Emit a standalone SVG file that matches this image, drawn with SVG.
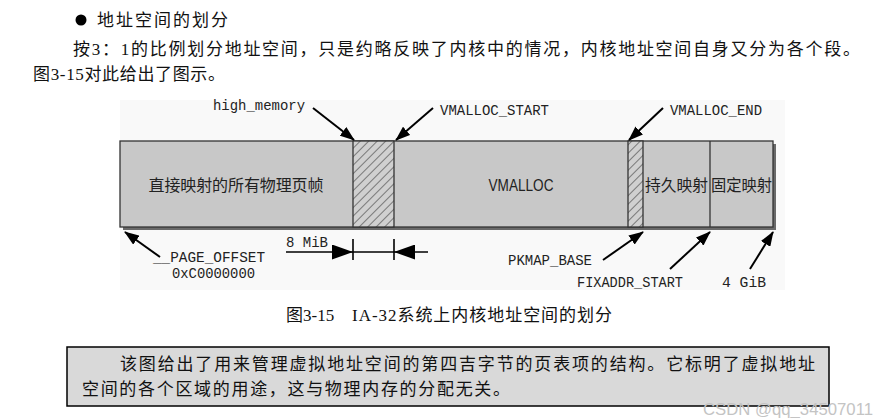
<svg xmlns="http://www.w3.org/2000/svg" width="876" height="418" viewBox="0 0 876 418">
<style>
.cn{font-family:"Liberation Serif","Noto Sans CJK SC",serif;font-size:17px;fill:#111}
.mono{font-family:"Liberation Mono","DejaVu Sans Mono",monospace;font-size:14px;fill:#222}
.bar{fill:#c8c8c8;stroke:#333;stroke-width:1.3}
.arr{stroke:#000;stroke-width:2;fill:none;marker-end:url(#ah)}
.dim{stroke:#000;stroke-width:1.6;fill:none}
.seg{font-family:"Noto Sans CJK SC","Liberation Sans",sans-serif;font-size:16px;fill:#222}
</style>
<defs>
<marker id="ah" markerUnits="userSpaceOnUse" markerWidth="15" markerHeight="11" refX="14" refY="5.5" orient="auto"><path d="M0,0 L15,5.5 L0,11 z" fill="#000"/></marker>
<marker id="ahb" markerUnits="userSpaceOnUse" markerWidth="21" markerHeight="15" refX="21" refY="7.5" orient="auto"><path d="M0,0 L21,7.5 L0,15 z" fill="#000"/></marker>
<pattern id="hatch" patternUnits="userSpaceOnUse" width="6" height="6" patternTransform="rotate(45)">
<rect width="6" height="6" fill="#d0d0d0"/>
<line x1="0" y1="0" x2="0" y2="6" stroke="#222" stroke-width="1"/>
</pattern>
</defs>
<rect width="876" height="418" fill="#fff"/>
<g id="heading">
<circle cx="81" cy="20" r="5.5" fill="#000"/>
<text class="cn" x="97" y="26" textLength="131" lengthAdjust="spacing">地址空间的划分</text>
</g>
<g id="para">
<text class="cn" x="73" y="55" textLength="787" lengthAdjust="spacing">按3：1的比例划分地址空间，只是约略反映了内核中的情况，内核地址空间自身又分为各个段。</text>
<text class="cn" x="33" y="80" textLength="192" lengthAdjust="spacing">图3-15对此给出了图示。</text>
</g>
<rect x="120" y="100" width="665" height="190" fill="#f9f9f9"/>
<g id="bar">
<rect x="123" y="144" width="653" height="86" fill="#6a6a6a"/>
<rect class="bar" x="120" y="141" width="653" height="86"/>
</g>
<g id="node-direct">
<text class="seg" x="236" y="191" text-anchor="middle" textLength="175" lengthAdjust="spacing">直接映射的所有物理页帧</text>
</g>
<g id="node-gap1">
<rect x="353" y="141" width="41" height="86" fill="url(#hatch)" stroke="#333" stroke-width="1.3"/>
</g>
<g id="node-vmalloc">
<text x="521" y="191" text-anchor="middle" font-family="'Liberation Sans Narrow','Liberation Sans',sans-serif" font-size="16.5" fill="#222" textLength="65" lengthAdjust="spacingAndGlyphs">VMALLOC</text>
</g>
<g id="node-gap2">
<rect x="628" y="141" width="15" height="86" fill="url(#hatch)" stroke="#333" stroke-width="1.3"/>
</g>
<g id="node-pkmap">
<text class="seg" x="645" y="191" textLength="63" lengthAdjust="spacingAndGlyphs">持久映射</text>
</g>
<g id="node-fixmap">
<line x1="710" y1="141" x2="710" y2="227" stroke="#333" stroke-width="1.3"/>
<text class="seg" x="711" y="191" textLength="61" lengthAdjust="spacingAndGlyphs">固定映射</text>
</g>
<g id="labels">
<text class="mono" x="213" y="110" textLength="92" lengthAdjust="spacingAndGlyphs">high_memory</text>
<text class="mono" x="440" y="115" textLength="109" lengthAdjust="spacingAndGlyphs">VMALLOC_START</text>
<text class="mono" x="670" y="115" textLength="92" lengthAdjust="spacingAndGlyphs">VMALLOC_END</text>
<text class="mono" x="153" y="262" textLength="112" lengthAdjust="spacingAndGlyphs">__PAGE_OFFSET</text>
<text class="mono" x="172" y="278" textLength="83" lengthAdjust="spacingAndGlyphs">0xC0000000</text>
<text class="mono" x="286" y="247" textLength="42" lengthAdjust="spacingAndGlyphs">8 MiB</text>
<text class="mono" x="508" y="265" textLength="84" lengthAdjust="spacingAndGlyphs">PKMAP_BASE</text>
<text class="mono" x="577" y="287" textLength="106" lengthAdjust="spacingAndGlyphs">FIXADDR_START</text>
<text class="mono" x="722" y="287" textLength="44" lengthAdjust="spacingAndGlyphs">4 GiB</text>
</g>
<g id="connectors">
<line class="arr" x1="313" y1="108" x2="354" y2="140"/>
<line class="arr" x1="433" y1="108" x2="396" y2="140"/>
<line class="arr" x1="663" y1="108" x2="629" y2="140"/>
<line class="arr" x1="160" y1="257" x2="125" y2="232"/>
<line class="arr" x1="603" y1="260" x2="643" y2="232"/>
<line class="arr" x1="670" y1="269" x2="710" y2="232"/>
<line class="arr" x1="750" y1="269" x2="773" y2="232"/>
<line class="dim" x1="286" y1="252" x2="353" y2="252" marker-end="url(#ahb)"/>
<line class="dim" x1="428" y1="252" x2="394" y2="252" marker-end="url(#ahb)"/>
<line class="dim" x1="353" y1="252" x2="394" y2="252"/>
<line class="dim" x1="353" y1="239" x2="353" y2="260"/>
<line class="dim" x1="394" y1="239" x2="394" y2="260"/>
</g>
<g id="caption">
<text class="cn" x="286" y="321">图3-15</text>
<text class="cn" x="352" y="321" textLength="260" lengthAdjust="spacing">IA-32系统上内核地址空间的划分</text>
</g>
<g id="note">
<rect x="67" y="347" width="762" height="59" fill="#d9d9d9" stroke="#000" stroke-width="1.5"/>
<text class="cn" x="120" y="370" textLength="695" lengthAdjust="spacing">该图给出了用来管理虚拟地址空间的第四吉字节的页表项的结构。它标明了虚拟地址</text>
<text class="cn" x="82" y="395" textLength="428" lengthAdjust="spacing">空间的各个区域的用途，这与物理内存的分配无关。</text>
</g>
<text x="703" y="415" font-family="'Liberation Sans',sans-serif" font-size="17" fill="#c4c4c4" textLength="170" lengthAdjust="spacingAndGlyphs">CSDN @qq_34507011</text>
</svg>
